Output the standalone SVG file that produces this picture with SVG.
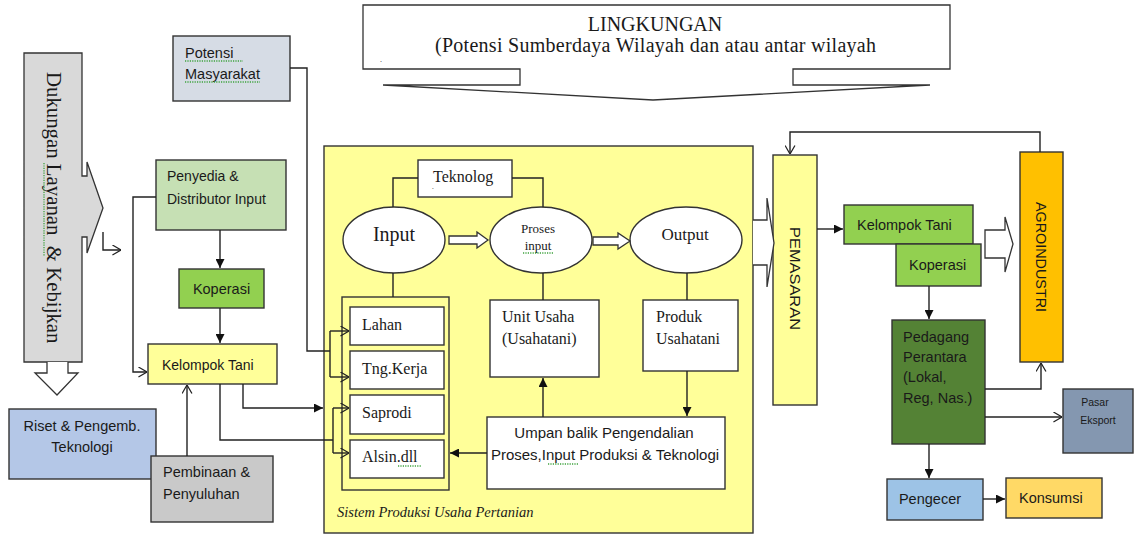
<svg xmlns="http://www.w3.org/2000/svg" width="1136" height="535" viewBox="0 0 1136 535">
  <style>
    .box { stroke: #333; stroke-width: 1.4; }
    .sf { font-family: "Liberation Serif", "Times New Roman", serif; fill: #1a1a1a; }
    .ss { font-family: "Liberation Sans", Arial, sans-serif; fill: #1a1a1a; }
    .ln { fill: none; stroke: #222; stroke-width: 1.4; }
    .blk { fill: #fff; stroke: #333; stroke-width: 1.3; }
    .sq { fill: none; stroke: #3fa33f; stroke-width: 1.3; stroke-dasharray: 1.2 1.2; }
  </style>
  <defs>
    <marker id="fa" viewBox="0 0 10 10" refX="10" refY="5" markerWidth="9" markerHeight="9" markerUnits="userSpaceOnUse" orient="auto">
      <path d="M0,0 L10,5 L0,10 Z" fill="#111"/>
    </marker>
    <marker id="oa" viewBox="0 0 10 12" refX="9.5" refY="6" markerWidth="9" markerHeight="11" markerUnits="userSpaceOnUse" orient="auto">
      <path d="M0,0.5 L9.5,6 L0,11.5" fill="none" stroke="#222" stroke-width="1.4"/>
    </marker>
  </defs>
  <rect width="1136" height="535" fill="#fff"/>

  <!-- Environment banner with downward callout -->
  <g id="lingkungan">
    <path class="blk" d="M363,5 H950 V69 H793 V85 H930 L653,100 L383,85 H520 V69 H363 Z"/>
    <text class="sf" x="655" y="31" font-size="20" text-anchor="middle">LINGKUNGAN</text>
    <text class="sf" x="435" y="52" font-size="20" textLength="441" lengthAdjust="spacing">(Potensi Sumberdaya Wilayah dan atau antar wilayah</text>
    <text class="sf" x="380" y="62" font-size="8">.</text>
  </g>

  <!-- Support and policy column with callouts -->
  <g id="dukungan">
    <path d="M24,53 H82 V176 H87 V162 L103,208 L87,253 V237 H82 V362 H24 Z" fill="#d9d9d9" stroke="#333" stroke-width="1.3"/>
    <path class="blk" d="M47,362 V373 H35 L57,395 L78,373 H68 V362"/>
    <text class="sf" font-size="20.8" transform="translate(47,72) rotate(90)" xml:space="preserve">Dukungan Layanan  &amp; Kebijkan</text>
    <path class="sq" d="M44,163 V256"/>
  </g>

  <g id="potensi">
    <rect class="box" x="173" y="36" width="117" height="65" fill="#d6dce5"/>
    <text class="ss" x="185" y="58" font-size="14.5">Potensi</text>
    <text class="ss" x="185" y="79" font-size="14.5">Masyarakat</text>
    <path class="sq" d="M185,61 H243 M185,82 H260"/>
  </g>

  <g id="penyedia">
    <rect class="box" x="156" y="160" width="130" height="70" fill="#c6e0b4"/>
    <text class="ss" x="167" y="181" font-size="14">Penyedia &amp;</text>
    <text class="ss" x="167" y="204" font-size="14">Distributor Input</text>
  </g>

  <g id="koperasi-kiri">
    <rect class="box" x="179" y="269" width="85" height="39" fill="#92d050"/>
    <text class="ss" x="221.5" y="294" font-size="14.5" text-anchor="middle">Koperasi</text>
  </g>

  <g id="kelompok-tani-kiri">
    <rect class="box" x="148" y="344" width="129" height="40" fill="#ffff99"/>
    <text class="ss" x="162" y="370" font-size="14">Kelompok Tani</text>
  </g>

  <g id="riset">
    <rect class="box" x="9" y="409" width="147" height="70" fill="#b4c7e7"/>
    <text class="ss" x="82" y="431" font-size="14.5" text-anchor="middle">Riset &amp; Pengemb.</text>
    <text class="ss" x="82" y="452" font-size="14.5" text-anchor="middle">Teknologi</text>
  </g>

  <g id="pembinaan">
    <rect class="box" x="151" y="456" width="122" height="66" fill="#c9c9c9"/>
    <text class="ss" x="163" y="477" font-size="14.5">Pembinaan &amp;</text>
    <text class="ss" x="163" y="499" font-size="14.5">Penyuluhan</text>
  </g>

  <!-- Farm production system -->
  <g id="sistem-produksi">
    <rect class="box" x="324" y="146" width="429" height="387" fill="#ffff99"/>
    <text class="sf" x="337" y="517" font-size="14.5" font-style="italic">Sistem Produksi Usaha Pertanian</text>
  </g>

  <g id="teknolog">
    <rect class="box" x="418" y="160" width="94" height="37" fill="#fff"/>
    <text class="sf" x="433" y="182" font-size="16">Teknolog</text>
    <text class="sf" x="432" y="189" font-size="7">.</text>
  </g>

  <g id="input">
    <ellipse class="box" cx="394" cy="240" rx="51" ry="33" fill="#fff"/>
    <text class="sf" x="394" y="241" font-size="20" text-anchor="middle">Input</text>
  </g>

  <g id="proses">
    <ellipse class="box" cx="541" cy="240" rx="51" ry="33" fill="#fff"/>
    <text class="sf" x="538" y="233" font-size="13" text-anchor="middle">Proses</text>
    <text class="sf" x="538" y="250" font-size="13" text-anchor="middle">input</text>
    <path class="sq" d="M523,253 H553"/>
  </g>

  <g id="output">
    <ellipse class="box" cx="686" cy="240" rx="56" ry="33" fill="#fff"/>
    <text class="sf" x="685" y="240" font-size="17" text-anchor="middle">Output</text>
  </g>

  <g id="input-faktor">
    <rect x="342" y="297" width="107" height="193" fill="none" stroke="#333" stroke-width="1.4"/>
  </g>
  <g id="lahan">
    <rect class="box" x="350" y="307" width="94" height="38" fill="#fff"/>
    <text class="sf" x="362" y="330" font-size="16">Lahan</text>
  </g>
  <g id="tenaga-kerja">
    <rect class="box" x="350" y="351" width="94" height="38" fill="#fff"/>
    <text class="sf" x="362" y="374" font-size="16">Tng.Kerja</text>
  </g>
  <g id="saprodi">
    <rect class="box" x="350" y="395" width="94" height="39" fill="#fff"/>
    <text class="sf" x="362" y="418" font-size="16">Saprodi</text>
  </g>
  <g id="alsin">
    <rect class="box" x="350" y="440" width="94" height="38" fill="#fff"/>
    <text class="sf" x="362" y="462" font-size="16">Alsin.dll</text>
    <path class="sq" d="M398,466 H422"/>
  </g>

  <g id="unit-usaha">
    <rect class="box" x="490" y="300" width="109" height="77" fill="#fff"/>
    <text class="sf" x="502" y="322" font-size="16">Unit Usaha</text>
    <text class="sf" x="502" y="344" font-size="16">(Usahatani)</text>
  </g>

  <g id="produk">
    <rect class="box" x="643" y="300" width="95" height="71" fill="#fff"/>
    <text class="sf" x="656" y="322" font-size="16">Produk</text>
    <text class="sf" x="656" y="344" font-size="16">Usahatani</text>
  </g>

  <g id="umpan-balik">
    <rect class="box" x="487" y="417" width="238" height="72" fill="#fff"/>
    <text class="ss" x="604" y="438" font-size="15" text-anchor="middle">Umpan balik Pengendalian</text>
    <text class="ss" x="605" y="460" font-size="15" text-anchor="middle">Proses,Input Produksi &amp; Teknologi</text>
    <path class="sq" d="M548,464 H578"/>
  </g>

  <!-- Marketing and downstream -->
  <g id="pemasaran">
    <rect class="box" x="773" y="155" width="44" height="250" fill="#ffff99"/>
    <text class="ss" font-size="15" transform="translate(790,227) rotate(90)" textLength="103" lengthAdjust="spacingAndGlyphs">PEMASARAN</text>
  </g>

  <g id="kelompok-tani-kanan">
    <rect class="box" x="844" y="205" width="129" height="39" fill="#92d050"/>
    <text class="ss" x="857" y="230" font-size="14.5">Kelompok Tani</text>
  </g>

  <g id="koperasi-kanan">
    <rect class="box" x="896" y="244" width="85" height="42" fill="#92d050"/>
    <text class="ss" x="909" y="270" font-size="14.5">Koperasi</text>
  </g>

  <g id="agroindustri">
    <rect class="box" x="1020" y="152" width="43" height="210" fill="#ffc000"/>
    <text class="ss" font-size="14.5" transform="translate(1036,202) rotate(90)" textLength="110" lengthAdjust="spacingAndGlyphs">AGROINDUSTRI</text>
  </g>

  <g id="pedagang">
    <rect class="box" x="892" y="320" width="93" height="124" fill="#548235"/>
    <text class="ss" x="903" y="342" font-size="14.5">Pedagang</text>
    <text class="ss" x="903" y="362" font-size="14.5">Perantara</text>
    <text class="ss" x="903" y="382" font-size="14.5">(Lokal,</text>
    <text class="ss" x="903" y="403" font-size="14.5">Reg, Nas.)</text>
  </g>

  <g id="pasar-ekspor">
    <rect class="box" x="1063" y="389" width="70" height="64" fill="#8497b0"/>
    <text class="ss" x="1095" y="406" font-size="10.5" text-anchor="middle">Pasar</text>
    <text class="ss" x="1098" y="424" font-size="10.5" text-anchor="middle">Eksport</text>
  </g>

  <g id="pengecer">
    <rect class="box" x="887" y="479" width="96" height="41" fill="#9dc3e6"/>
    <text class="ss" x="930" y="504" font-size="14.5" text-anchor="middle">Pengecer</text>
  </g>

  <g id="konsumsi">
    <rect class="box" x="1006" y="478" width="96" height="40" fill="#ffd966"/>
    <text class="ss" x="1019" y="503" font-size="14.5">Konsumsi</text>
  </g>

  <!-- Connectors -->
  <g id="connectors">
    <!-- block arrows -->
    <path class="blk" d="M449,236 H477 V232 L488,240 L477,248 V244 H449 Z"/>
    <path class="blk" d="M593,237 H618 V233 L630,241 L618,249 V245 H593 Z"/>
    <path class="blk" d="M753,220 H767 V198 L774,243 L767,287 V265 H753"/>
    <path class="blk" d="M985,230 H1005 V217 L1013,244 L1005,272 V258 H985 Z"/>

    <!-- left side -->
    <path class="ln" d="M103,232 V250 H121" marker-end="url(#oa)"/>
    <path class="ln" d="M156,197 H133 V372 H147" marker-end="url(#oa)"/>
    <path class="ln" d="M220,230 V268" marker-end="url(#fa)"/>
    <path class="ln" d="M220,308 V343" marker-end="url(#fa)"/>
    <path class="ln" d="M187,456 V385" marker-end="url(#oa)"/>
    <path class="ln" d="M290,68 H307 V351 H330"/>
    <path class="ln" d="M330,331 V377"/>
    <path class="ln" d="M330,331 H349" marker-end="url(#oa)"/>
    <path class="ln" d="M330,377 H349" marker-end="url(#oa)"/>
    <path class="ln" d="M243,384 V408 H323" marker-end="url(#fa)"/>
    <path class="ln" d="M220,384 V440 H333"/>
    <path class="ln" d="M333,408 V453"/>
    <path class="ln" d="M333,408 H349" marker-end="url(#oa)"/>
    <path class="ln" d="M333,453 H349" marker-end="url(#oa)"/>

    <!-- production system -->
    <path class="ln" d="M418,178 H393 V207"/>
    <path class="ln" d="M512,178 H543 V207"/>
    <path class="ln" d="M393,273 V297"/>
    <path class="ln" d="M543,273 V300"/>
    <path class="ln" d="M687,273 V300"/>
    <path class="ln" d="M543,417 V378" marker-end="url(#fa)"/>
    <path class="ln" d="M687,371 V416" marker-end="url(#fa)"/>
    <path class="ln" d="M487,453 H450" marker-end="url(#fa)"/>

    <!-- marketing side -->
    <path class="ln" d="M817,229 H843" marker-end="url(#fa)"/>
    <path class="ln" d="M1040,152 V132 H790 V154" marker-end="url(#oa)"/>
    <path class="ln" d="M929,286 V319" marker-end="url(#fa)"/>
    <path class="ln" d="M985,389 H1041 V363" marker-end="url(#oa)"/>
    <path class="ln" d="M985,417 H1062" marker-end="url(#oa)"/>
    <path class="ln" d="M929,444 V478" marker-end="url(#fa)"/>
    <path class="ln" d="M983,499 H1005" marker-end="url(#fa)"/>
  </g>
</svg>
